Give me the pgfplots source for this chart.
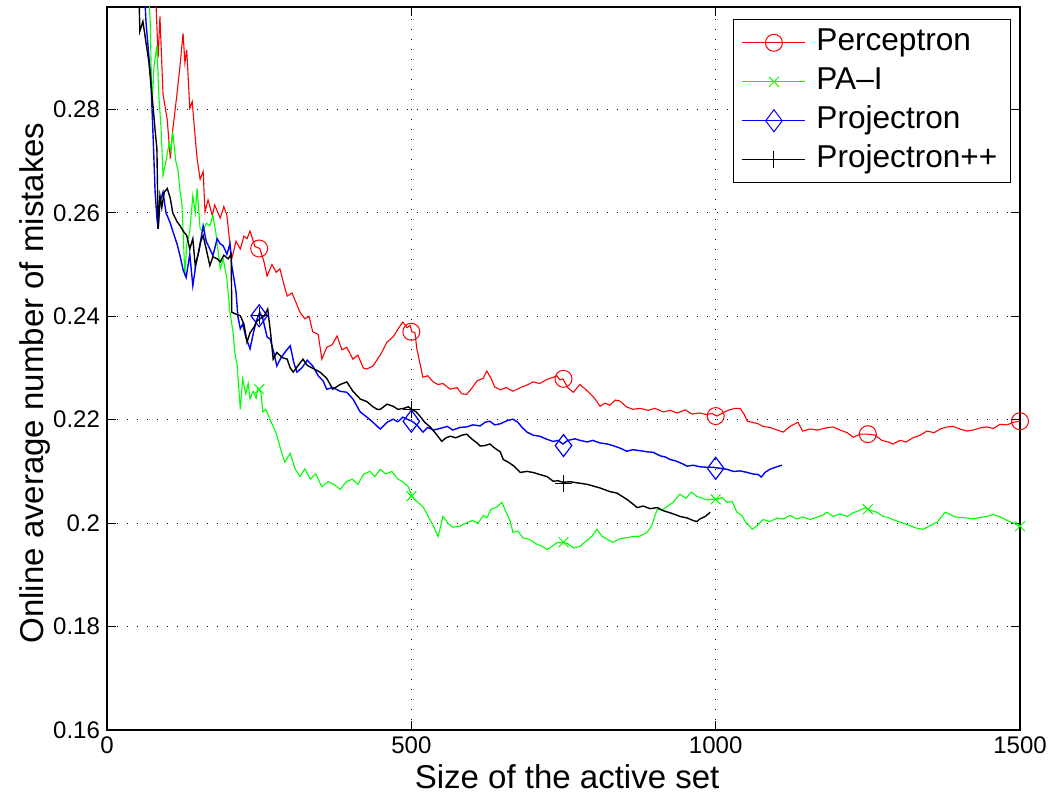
\documentclass[border=0pt]{standalone}
\usepackage{fontspec}
\setmainfont{Liberation Sans}
\usepackage{pgfplots}
\pgfplotsset{compat=1.18}
\definecolor{mred}{rgb}{1,0,0}
\definecolor{mgreen}{rgb}{0,1,0}
\definecolor{mblue}{rgb}{0,0,1}
\begin{document}
\begin{tikzpicture}
\useasboundingbox (-53.5pt,-35.5pt) rectangle (472.5pt,365pt);
\begin{axis}[
  at={(0,0)}, anchor=south west,
  scale only axis, width=456.5pt, height=361.5pt,
  xmin=0, xmax=1500, ymin=0.16, ymax=0.2998,
  xtick={0,500,1000,1500}, xticklabels={0,500,1000,1500},
  ytick={0.16,0.18,0.2,0.22,0.24,0.26,0.28},
  yticklabels={0.16,0.18,0.2,0.22,0.24,0.26,0.28},
  tick align=inside, tick pos=both, major tick length=4.5pt,
  ticklabel style={font=\fontsize{12}{14}\selectfont},
  grid=major, grid style={black, line width=0.4pt, dash pattern=on 0.5pt off 4.5pt},
  axis line style={line width=0.7pt},
  every tick/.style={black, line width=0.5pt},
  xlabel={Size of the active set}, ylabel={Online average number of mistakes},
  label style={font=\fontsize{16.5}{19}\selectfont},
  xlabel style={at={(axis description cs:0.504,-0.065)}, anchor=center},
  ylabel style={at={(axis description cs:-0.079,0.48)}, anchor=center},
  clip mode=individual,
  legend style={at={(0.990,0.983)}, anchor=north east, draw=black, line width=0.5pt,
    font=\fontsize{15.8}{19}\selectfont, inner xsep=4.25pt, inner ysep=1.75pt,
    nodes={inner xsep=2.25pt, inner ysep=2pt, text height=11.5pt, text depth=4pt},
    /tikz/column sep=3pt, row sep=0pt},
  legend cell align=left,
  legend image code/.code={\draw[mark repeat=2,mark phase=2,#1] plot coordinates {(0pt,0pt) (15.75pt,0pt) (31.5pt,0pt)};},
]
% Perceptron
\addplot[mred, line width=0.55pt, forget plot] coordinates {
(79,0.305)(84,0.29)(87,0.298)(92,0.283)(99,0.278)(104,0.2705)(108,0.276)(115,0.283)(120,0.2885)(125,0.2947)
(128,0.289)(131,0.2915)(136,0.2802)(140,0.2815)(145,0.2745)(148,0.2705)(153,0.2665)(158,0.268)(161,0.2602)(166,0.2625)
(173,0.2595)(177,0.2615)(186,0.2590)(192,0.2612)(197,0.2595)(202,0.2540)(205,0.2511)(212,0.2545)(219,0.2530)(225,0.2555)
(230,0.255)(235,0.2565)(243,0.2535)(251,0.2531)(258,0.2505)(263,0.2478)(271,0.2500)(278,0.2485)(284,0.2492)(291,0.2460)
(296,0.2439)(304,0.2445)(311,0.2425)(317,0.2408)(325,0.2395)(332,0.2400)(338,0.2370)(347,0.2365)(353,0.2317)(361,0.2340)
(370,0.2345)(378,0.2362)(386,0.2335)(394,0.2340)(404,0.2317)(412,0.2325)(421,0.2300)(427,0.2298)(437,0.2304)(449,0.2325)
(460,0.2350)(470,0.2360)(478,0.2375)(486,0.2389)(493,0.2378)(498,0.2382)(501,0.2370)(506,0.2368)(509,0.2337)(514,0.2310)
(519,0.2282)(527,0.2285)(536,0.2273)(544,0.2268)(552,0.2270)(564,0.2259)(575,0.2262)(583,0.2250)(591,0.2249)(600,0.2262)
(608,0.2275)(618,0.2280)(624,0.2294)(631,0.2280)(637,0.2263)(646,0.2258)(656,0.2262)(667,0.2255)(679,0.2262)(690,0.2267)
(700,0.2273)(711,0.2270)(723,0.2278)(733,0.2282)(739,0.2285)(744,0.2277)(749,0.2279)(757,0.2262)(766,0.2253)(777,0.2268)
(785,0.2260)(794,0.2250)(802,0.2240)(810,0.2226)(818,0.2232)(826,0.2228)(835,0.2238)(843,0.2236)(853,0.2225)(864,0.2220)
(876,0.2222)(889,0.2218)(900,0.2222)(914,0.2215)(925,0.2218)(937,0.2213)(950,0.2219)(961,0.2211)(974,0.2213)(984,0.2210)
(994,0.2212)(1002,0.2207)(1010,0.2212)(1020,0.2218)(1032,0.2222)(1040,0.2222)(1047,0.2210)(1052,0.2197)(1060,0.2195)(1070,0.2192)
(1078,0.2187)(1089,0.2185)(1101,0.2180)(1111,0.2176)(1122,0.2187)(1135,0.2195)(1143,0.2178)(1155,0.2182)(1168,0.2180)(1181,0.2184)
(1193,0.2186)(1204,0.2180)(1216,0.2175)(1226,0.2166)(1237,0.2172)(1250,0.2172)(1262,0.2170)(1273,0.2160)(1283,0.2157)(1291,0.2153)
(1303,0.2160)(1313,0.2157)(1324,0.2165)(1336,0.2170)(1347,0.2178)(1359,0.2175)(1369,0.2182)(1380,0.2186)(1390,0.2187)(1401,0.2182)
(1413,0.2178)(1423,0.2180)(1434,0.2184)(1446,0.2186)(1456,0.2183)(1467,0.2191)(1479,0.2190)(1489,0.2195)(1500,0.2197)
};
\addplot[mred, only marks, mark=o, mark size=4.25pt, line width=0.5pt, forget plot] coordinates {
(250,0.2531)(500,0.2370)(750,0.2279)(1000,0.2207)(1250,0.2172)(1500,0.2197)};
% PA-I
\addplot[mgreen, line width=0.55pt, forget plot] coordinates {
(67,0.305)(71,0.297)(74,0.2802)(77,0.288)(82,0.2924)(85,0.283)(89,0.2760)(92,0.2672)(97,0.2700)(102,0.2735)
(105,0.2720)(108,0.2757)(113,0.2700)(117,0.2680)(120,0.2641)(123,0.2620)(128,0.2478)(131,0.2540)(136,0.2564)(141,0.2633)
(145,0.2600)(148,0.2647)(153,0.2569)(158,0.2564)(163,0.2580)(169,0.2575)(174,0.2595)(179,0.2560)(186,0.2492)(191,0.2510)
(197,0.2472)(202,0.2408)(207,0.2370)(210,0.2330)(214,0.2304)(219,0.2220)(223,0.2279)(228,0.2250)(232,0.2270)(235,0.2240)
(240,0.2255)(245,0.2242)(248,0.2262)(253,0.2252)(256,0.2215)(261,0.2220)(268,0.2200)(273,0.2187)(279,0.2170)(286,0.2140)
(292,0.2118)(301,0.2135)(309,0.2105)(317,0.2090)(325,0.2105)(334,0.2085)(343,0.2095)(353,0.2070)(363,0.2080)(373,0.2075)
(383,0.2065)(393,0.2080)(403,0.2085)(412,0.2075)(422,0.2095)(432,0.2100)(440,0.2090)(449,0.2104)(458,0.2095)(468,0.2100)
(478,0.2085)(486,0.2080)(495,0.2070)(501,0.2052)(511,0.2040)(519,0.2032)(527,0.2015)(536,0.1995)(544,0.1974)(552,0.2013)
(560,0.2000)(568,0.1992)(580,0.1994)(590,0.2000)(600,0.2005)(610,0.2000)(618,0.2015)(624,0.2010)(631,0.2027)(639,0.2030)
(649,0.2040)(656,0.2020)(662,0.2005)(667,0.1982)(675,0.1985)(683,0.1972)(695,0.1968)(705,0.1960)(715,0.1955)(723,0.1949)
(731,0.1955)(739,0.1962)(749,0.1963)(757,0.1960)(767,0.1952)(777,0.1955)(787,0.1965)(797,0.1975)(805,0.1988)(813,0.1975)
(823,0.1968)(831,0.1963)(843,0.1970)(854,0.1972)(864,0.1974)(876,0.1975)(887,0.1982)(895,0.1995)(904,0.2027)(912,0.2025)
(920,0.2032)(930,0.2040)(941,0.2056)(951,0.2048)(960,0.2060)(969,0.2052)(978,0.2048)(987,0.2045)(996,0.2046)(1002,0.2046)
(1010,0.2050)(1019,0.2040)(1027,0.2042)(1035,0.2021)(1043,0.2015)(1050,0.2000)(1056,0.1994)(1060,0.1988)(1068,0.1995)(1078,0.2007)
(1089,0.2003)(1101,0.2010)(1111,0.2008)(1122,0.2015)(1133,0.2008)(1143,0.2012)(1155,0.2007)(1167,0.2012)(1176,0.2015)(1183,0.2021)
(1193,0.2013)(1204,0.2018)(1216,0.2013)(1226,0.2020)(1237,0.2025)(1247,0.2030)(1254,0.2025)(1265,0.2021)(1275,0.2013)(1283,0.2011)
(1295,0.2005)(1308,0.2000)(1319,0.1995)(1331,0.1990)(1341,0.1988)(1352,0.1995)(1364,0.2002)(1377,0.2021)(1385,0.2017)(1393,0.2012)
(1401,0.2011)(1413,0.2010)(1423,0.2008)(1434,0.2011)(1446,0.2013)(1456,0.2017)(1467,0.2012)(1479,0.2005)(1489,0.2000)(1500,0.1994)
};
\addplot[mgreen, only marks, mark=x, mark size=3.5pt, line width=0.5pt, forget plot] coordinates {
(250,0.2259)(500,0.2052)(750,0.1963)(1000,0.2046)(1250,0.2027)(1500,0.1994)};
% Projectron
\addplot[mblue, line width=0.7pt, forget plot] coordinates {
(59,0.31)(64,0.297)(69,0.290)(72,0.286)(76,0.274)(79,0.2641)(82,0.2590)(84,0.2569)(87,0.2620)(92,0.2640)
(97,0.2600)(104,0.2580)(108,0.2565)(115,0.2540)(120,0.2517)(125,0.2490)(130,0.2475)(136,0.2520)(141,0.2459)(146,0.2500)
(153,0.2540)(158,0.2575)(163,0.2545)(169,0.2530)(174,0.2517)(181,0.2550)(186,0.2540)(191,0.2536)(197,0.2520)(202,0.2540)
(205,0.2498)(209,0.2470)(212,0.2447)(215,0.2400)(219,0.2376)(223,0.2385)(228,0.2360)(235,0.2337)(240,0.2365)(245,0.2390)
(251,0.2408)(256,0.2395)(263,0.2360)(268,0.2356)(274,0.2330)(279,0.2304)(286,0.2320)(292,0.2330)(301,0.2343)(307,0.2310)
(312,0.2292)(320,0.2300)(329,0.2315)(338,0.2304)(347,0.2285)(355,0.2275)(361,0.2259)(371,0.2262)(383,0.2255)(394,0.2253)
(404,0.2240)(416,0.2215)(427,0.2205)(437,0.2195)(444,0.2187)(449,0.2182)(460,0.2195)(470,0.2201)(478,0.2196)(486,0.2205)
(495,0.2200)(501,0.2197)(509,0.2190)(519,0.2176)(527,0.2185)(536,0.2180)(547,0.2183)(559,0.2187)(568,0.2180)(580,0.2185)
(591,0.2186)(601,0.2190)(613,0.2188)(621,0.2195)(629,0.2197)(637,0.2190)(646,0.2192)(657,0.2198)(667,0.2201)(675,0.2195)
(682,0.2185)(690,0.2176)(700,0.2170)(711,0.2168)(723,0.2162)(733,0.2158)(741,0.2160)(749,0.2153)(757,0.2160)(769,0.2163)
(777,0.2160)(789,0.2157)(798,0.2160)(810,0.2155)(822,0.2153)(831,0.2150)(843,0.2145)(854,0.2139)(864,0.2142)(876,0.2140)
(887,0.2138)(897,0.2137)(909,0.2130)(917,0.2128)(925,0.2123)(935,0.2120)(945,0.2115)(953,0.2110)(963,0.2112)(974,0.2109)
(986,0.2108)(996,0.2108)(1007,0.2106)(1019,0.2104)(1029,0.2100)(1040,0.2101)(1052,0.2098)(1061,0.2095)(1070,0.2094)(1075,0.2089)
(1081,0.2098)(1089,0.2104)(1098,0.2108)(1109,0.2112)
};
\addplot[mblue, only marks, mark=diamond, mark size=5.5pt, line width=0.6pt, forget plot] coordinates {
(250,0.2401)(500,0.2197)(750,0.2150)(1000,0.2106)};
% Projectron++
\addplot[black, line width=0.7pt, forget plot] coordinates {
(51,0.31)(54,0.2951)(59,0.2970)(64,0.2930)(69,0.2890)(72,0.2850)(76,0.2802)(79,0.2760)(82,0.2724)(84,0.2569)
(87,0.2633)(90,0.2610)(94,0.2640)(99,0.2647)(104,0.2628)(108,0.2600)(115,0.2583)(120,0.2575)(125,0.2565)(131,0.2556)
(136,0.2530)(141,0.2550)(145,0.2498)(150,0.2520)(154,0.2545)(158,0.2556)(163,0.2530)(169,0.2498)(174,0.2515)(181,0.2511)
(186,0.2505)(192,0.2518)(199,0.2511)(204,0.2520)(205,0.2408)(210,0.2405)(219,0.2401)(225,0.2385)(230,0.2350)(235,0.2368)
(242,0.2380)(246,0.2390)(251,0.2395)(258,0.2400)(264,0.2414)(269,0.2365)(273,0.2317)(279,0.2330)(288,0.2320)(296,0.2317)
(301,0.2300)(306,0.2292)(314,0.2305)(322,0.2317)(329,0.2305)(337,0.2300)(350,0.2292)(361,0.2280)(371,0.2259)(383,0.2268)
(394,0.2273)(404,0.2255)(416,0.2240)(427,0.2235)(437,0.2225)(444,0.2220)(449,0.2220)(460,0.2230)(470,0.2226)(478,0.2220)
(488,0.2222)(495,0.2225)(501,0.2220)(508,0.2215)(514,0.2207)(522,0.2195)(531,0.2186)(541,0.2172)(550,0.2158)(557,0.2165)
(564,0.2168)(573,0.2165)(583,0.2170)(591,0.2172)(600,0.2162)(608,0.2155)(613,0.2149)(621,0.2150)(629,0.2153)(637,0.2145)
(646,0.2138)(651,0.2123)(659,0.2118)(669,0.2110)(679,0.2098)(690,0.2100)(700,0.2098)(711,0.2094)(723,0.2090)(733,0.2081)
(741,0.2082)(749,0.2079)(761,0.2080)(772,0.2078)(789,0.2075)(798,0.2072)(810,0.2068)(826,0.2061)(838,0.2058)(846,0.2052)
(854,0.2046)(863,0.2038)(871,0.2030)(881,0.2033)(892,0.2028)(904,0.2030)(914,0.2024)(925,0.2020)(937,0.2015)(941,0.2013)
(953,0.2010)(963,0.2005)(969,0.2003)(974,0.2008)(983,0.2013)(991,0.2021)
};
\addplot[black, only marks, mark=+, mark size=4.25pt, line width=0.6pt, forget plot] coordinates {
(250,0.2401)(500,0.2220)(750,0.2077)};
\addlegendimage{mred, line width=0.5pt, mark=o, mark size=4.25pt}
\addlegendentry{Perceptron}
\addlegendimage{mgreen, line width=0.5pt, mark=x, mark size=3.5pt}
\addlegendentry{PA\textendash I}
\addlegendimage{mblue, line width=0.5pt, mark=diamond, mark size=5.5pt}
\addlegendentry{Projectron}
\addlegendimage{black, line width=0.5pt, mark=+, mark size=4.25pt}
\addlegendentry{Projectron++}
\end{axis}
\end{tikzpicture}
\end{document}
